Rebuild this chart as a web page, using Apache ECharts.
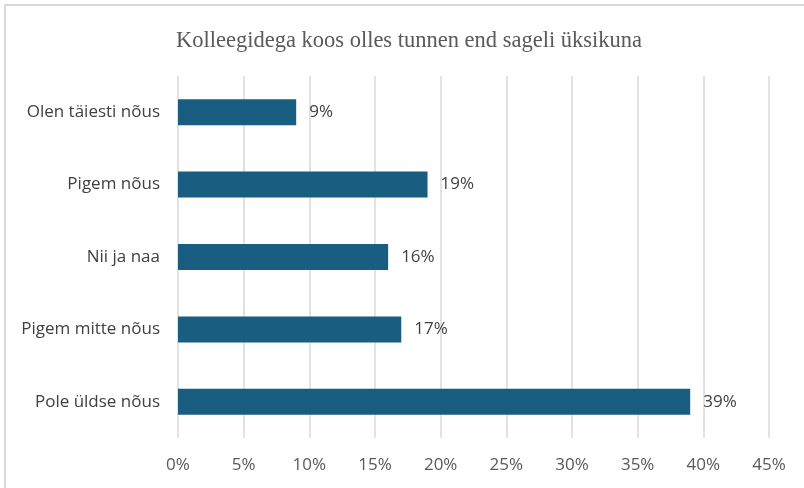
<!DOCTYPE html>
<html>
<head>
<meta charset="utf-8">
<script src="https://cdn.jsdelivr.net/npm/echarts@6/dist/echarts.min.js"></script>
<style>
  html, body { margin: 0; padding: 0; background: #fff; }
  #frame { position: absolute; left: 4px; top: 4px; width: 820px; height: 500px;
    border-top: 2px solid #d9d9d9; border-left: 2px solid #d9d9d9; }
  #bar_chart { position: absolute; left: 0; top: 0; width: 804px; height: 488px; }
</style>
</head>
<body>
<div id="frame"></div>
<div id="bar_chart"></div>
<script>
// categories from top to bottom as in the picture
var categories = ['Olen täiesti nõus', 'Pigem nõus', 'Nii ja naa', 'Pigem mitte nõus', 'Pole üldse nõus'];
var values = [9, 19, 16, 17, 39];
var tickMax = 45;
var tickStep = 5;

var chartDom = document.getElementById('bar_chart');
var myChart = echarts.init(chartDom);
var option;

option = {
  animation: false,
  title: {
    text: 'Kolleegidega koos olles tunnen end sageli üksikuna',
    left: 404,
    textAlign: 'center',
    top: 25,
    textStyle: {
      fontFamily: 'Liberation Serif',
      fontWeight: 'normal',
      fontSize: 22.5,
      color: '#595959'
    }
  },
  grid: {
    left: 178,
    right: 35,
    top: 76,
    bottom: 50
  },
  xAxis: {
    type: 'value',
    min: 0,
    max: tickMax,
    interval: tickStep,
    axisLine: { show: false },
    axisTick: { show: false },
    splitLine: { lineStyle: { color: '#d9d9d9', width: 1.5 } },
    axisLabel: {
      formatter: '{value}%',
      color: '#595959',
      fontFamily: 'Open Sans',
      fontSize: 17,
      margin: 19
    }
  },
  yAxis: {
    type: 'category',
    inverse: true,
    data: categories,
    axisLine: { show: false },
    axisTick: { show: false },
    axisLabel: {
      color: '#404040',
      fontFamily: 'Open Sans',
      fontSize: 17,
      margin: 18
    }
  },
  series: [
    {
      type: 'bar',
      data: values,
      barWidth: 26,
      itemStyle: { color: '#195e80' },
      label: {
        show: true,
        position: 'right',
        distance: 13,
        formatter: '{c}%',
        color: '#404040',
        fontFamily: 'Open Sans',
        fontSize: 17
      }
    }
  ]
};

option && myChart.setOption(option);
</script>
</body>
</html>
